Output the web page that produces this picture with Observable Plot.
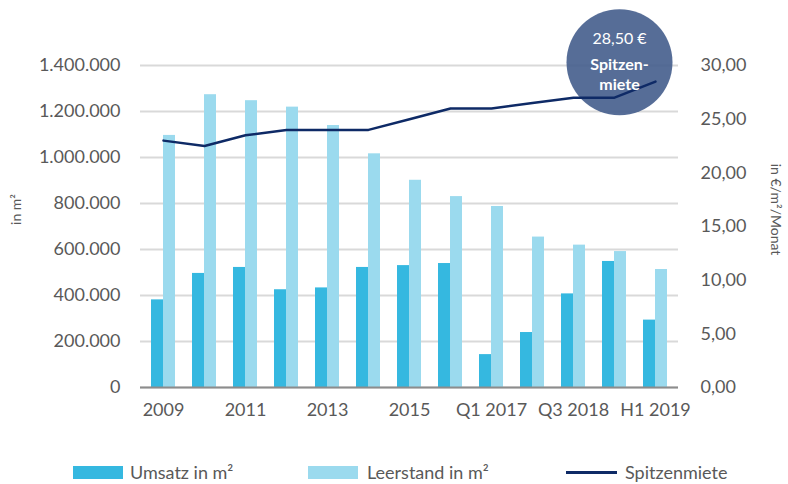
<!DOCTYPE html>
<html>
<head>
<meta charset="utf-8">
<script src="https://cdn.jsdelivr.net/npm/d3@7"></script>
<script src="https://cdn.jsdelivr.net/npm/@observablehq/plot@0.6"></script>
<style>
  html, body { margin: 0; padding: 0; background: #fff; }
  #wrap { width: 788px; height: 484px; position: relative; font-family: Lato, "Open Sans", sans-serif; color: #595959; }
  #legend { position: absolute; left: 0; top: 440px; width: 788px; height: 44px; }
  .sw { position: absolute; }
  .lt { position: absolute; font-size: 18px; line-height: 18px; white-space: nowrap; }
</style>
</head>
<body>
<div id="wrap"><div id="chart"></div><div id="legend"></div></div>
<script>
// ---- data ----
const categories = ["2009","2010","2011","2012","2013","2014","2015","2016","Q1 2017","2017","Q3 2018","2018","H1 2019"];
const umsatz     = [381000,496000,522000,425000,433000,522000,530000,539000,143000,239000,407000,548000,293000];
const leerstand  = [1096000,1273000,1247000,1219000,1139000,1016000,901000,830000,787000,654000,619000,591000,513000];
const spitzenmiete = [23.0,22.5,23.5,24.0,24.0,24.0,25.0,26.0,26.0,26.5,27.0,27.0,28.5];
const shownXTicks = ["2009","2011","2013","2015","Q1 2017","Q3 2018","H1 2019"];
const leftTicks  = [0,200000,400000,600000,800000,1000000,1200000,1400000];
const rightTicks = [0,5,10,15,20,25,30];
const seriesNames = ["Umsatz in m²","Leerstand in m²","Spitzenmiete"];
const axisTitles = ["in m²","in €/m²/Monat"];
const calloutCategory = ["2018"];
const calloutValue = [30.3];
const calloutTop = ["28,50 €"];
const calloutBottom = ["Spitzen-\nmiete"];

// ---- build ----
const colors = {umsatz: "#35b8e0", leer: "#9bdaee", line: "#0e2a66", circle: "#445d8c"};
const rows = categories.map((c, i) => ({cat: c, umsatz: umsatz[i], leer: leerstand[i], miete: spitzenmiete[i]}));
const k = leftTicks[leftTicks.length - 1] / rightTicks[rightTicks.length - 1];
const de = d3.formatLocale({decimal: ",", thousands: ".", grouping: [3], currency: ["", " €"]});
const fmtLeft = de.format(",");
const fmtRight = de.format(",.2f");
const callout = calloutCategory.map((c, i) => ({cat: c, val: calloutValue[i], top: calloutTop[i], bottom: calloutBottom[i]}));

const chart = Plot.plot({
  width: 788,
  height: 440,
  marginTop: 65,
  marginBottom: 53,
  marginLeft: 140,
  marginRight: 110,
  style: {fontFamily: "Lato, 'Open Sans', sans-serif", fontSize: "18px", color: "#595959", background: "white"},
  x: {type: "band", domain: categories, paddingInner: 0.71, paddingOuter: 0.355},
  y: {domain: [0, leftTicks[leftTicks.length - 1]]},
  marks: [
    Plot.gridY(leftTicks, {stroke: "#d9d9d9", strokeOpacity: 1, strokeWidth: 2}),
    Plot.barY(rows, {x: "cat", y: "umsatz", fill: colors.umsatz, dx: -6}),
    Plot.barY(rows, {x: "cat", y: "leer", fill: colors.leer, dx: 6}),
    Plot.ruleY([0], {stroke: "#8c8c8c", strokeWidth: 2}),
    Plot.axisY(leftTicks, {anchor: "left", tickSize: 0, tickPadding: 20, tickFormat: fmtLeft, label: null, fill: "#595959"}),
    Plot.axisY(rightTicks.map(v => v * k), {anchor: "right", tickSize: 0, tickPadding: 22, tickFormat: d => fmtRight(d / k), label: null, fill: "#595959", textAnchor: "start"}),
    Plot.axisX({tickSize: 0, tickPadding: 16, tickFormat: d => shownXTicks.includes(d) ? d : "", label: null, fill: "#595959"}),
    Plot.text([axisTitles[0]], {frameAnchor: "left", textAnchor: "middle", dx: -124, dy: -17, rotate: -90, fontSize: 14, fill: "#595959"}),
    Plot.text([axisTitles[1]], {frameAnchor: "right", textAnchor: "middle", dx: 97, dy: -17, rotate: 90, fontSize: 14, fill: "#595959"}),
    Plot.dot(callout, {x: "cat", y: d => d.val * k, r: 53, fill: colors.circle, fillOpacity: 0.9, stroke: null, dx: 5}),
    Plot.line(rows, {x: "cat", y: d => d.miete * k, stroke: colors.line, strokeWidth: 2.5}),
    Plot.text(callout, {x: "cat", y: d => d.val * k, text: "top", dx: 5, dy: -23, fill: "white", fontSize: 16}),
    Plot.text(callout, {x: "cat", y: d => d.val * k, text: "bottom", dx: 5, dy: 11, fill: "white", fontSize: 16, fontWeight: "bold", lineHeight: 1.3})
  ]
});
document.getElementById("chart").appendChild(chart);

// ---- legend ----
const legend = document.getElementById("legend");
const legendPos = [{sw: 73, tx: 130}, {sw: 308, tx: 367}, {sw: 566, tx: 625}];
const legendKinds = ["bar", "bar", "line"];
const legendColors = [colors.umsatz, colors.leer, colors.line];
seriesNames.forEach((name, i) => {
  const sw = document.createElement("div");
  sw.className = "sw";
  sw.style.left = legendPos[i].sw + "px";
  if (legendKinds[i] === "bar") {
    sw.style.top = "26px"; sw.style.width = "50px"; sw.style.height = "13px";
  } else {
    sw.style.top = "31px"; sw.style.width = "51px"; sw.style.height = "2.5px";
  }
  sw.style.background = legendColors[i];
  legend.appendChild(sw);
  const t = document.createElement("div");
  t.className = "lt";
  t.style.left = legendPos[i].tx + "px";
  t.style.top = "23px";
  t.textContent = name;
  legend.appendChild(t);
});
</script>
</body>
</html>
